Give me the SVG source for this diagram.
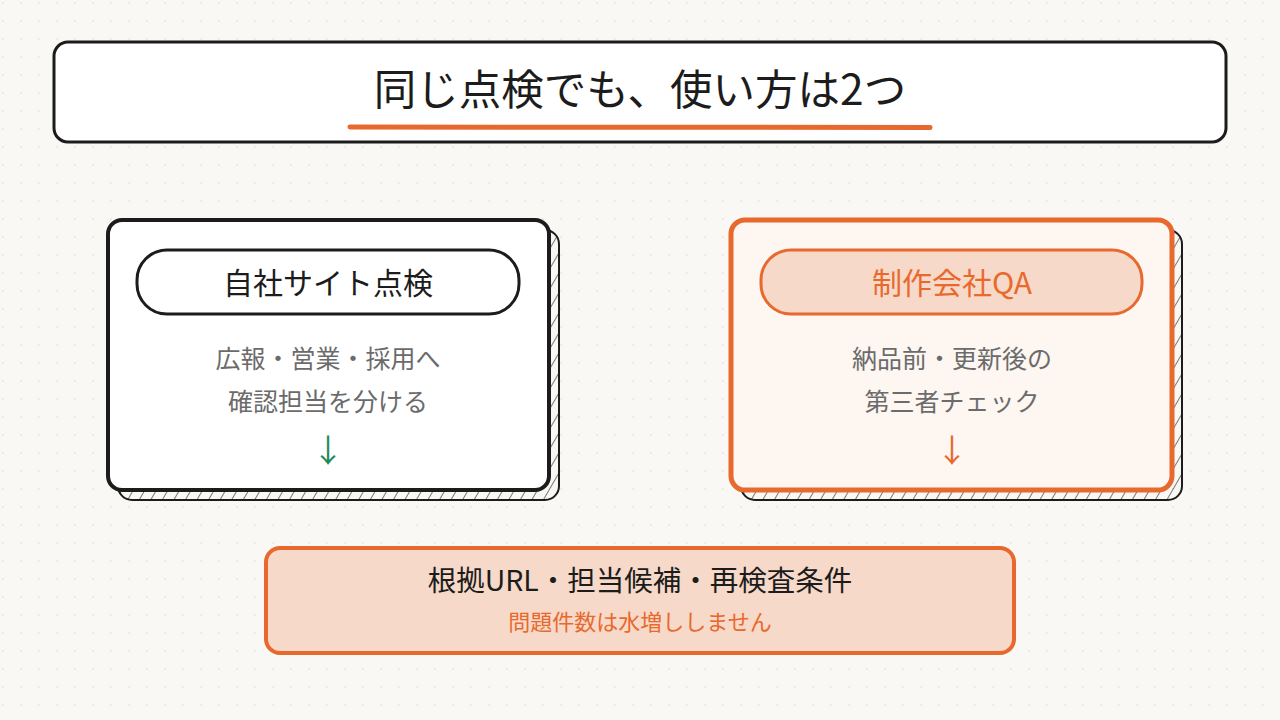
<svg xmlns="http://www.w3.org/2000/svg" width="1280" height="720" viewBox="0 0 1280 720">
  <defs>
    <pattern id="dots" x="0" y="0" width="18" height="18" patternUnits="userSpaceOnUse">
      <circle cx="3" cy="3" r="1" fill="#f2e6e0"/>
    </pattern>
    <pattern id="hatch" x="0" y="0" width="10" height="10" patternUnits="userSpaceOnUse" patternTransform="rotate(30)">
      <line x1="0" y1="0" x2="0" y2="10" stroke="#333" stroke-width="1.3"/>
    </pattern>
    <style>
      .t { font-family: "Noto Sans CJK JP", "Noto Sans", sans-serif; text-anchor: middle; }
      .ink { stroke: #1c1c1c; stroke-linejoin: round; stroke-linecap: round; }
      .org { stroke: #e8692e; stroke-linejoin: round; stroke-linecap: round; }
      .shadow { fill: url(#hatch); stroke: #1c1c1c; stroke-width: 2; }
      .body { font-size: 25px; fill: #6b6b6b; }
    </style>
  </defs>
  <rect width="1280" height="720" fill="#faf8f4"/>
  <rect width="1280" height="720" fill="url(#dots)"/>

  <g id="title">
    <rect x="54" y="42" width="1172" height="100" rx="14" fill="#ffffff" class="ink" stroke-width="3"/>
    <text class="t" x="640" y="105" font-size="42.5" fill="#1c1c1c">同じ点検でも、使い方は2つ</text>
    <line x1="350" y1="127" x2="930" y2="127.5" class="org" stroke-width="5" fill="none"/>
  </g>

  <g id="card-left">
    <rect x="118" y="230" width="441" height="270" rx="14" class="shadow"/>
    <rect x="108" y="220" width="441" height="270" rx="14" fill="#ffffff" class="ink" stroke-width="4"/>
    <rect x="137" y="250" width="382" height="64" rx="30" fill="#ffffff" class="ink" stroke-width="3"/>
    <text class="t" x="328" y="294" font-size="30" fill="#1c1c1c">自社サイト点検</text>
    <text class="t body" x="328" y="368">広報・営業・採用へ</text>
    <text class="t body" x="328" y="411">確認担当を分ける</text>
    <text class="t" x="328" y="462" font-size="32" fill="#1f8a5a">↓</text>
  </g>

  <g id="card-right">
    <rect x="741" y="230" width="441" height="270" rx="14" class="shadow"/>
    <rect x="731" y="220" width="441" height="270" rx="14" fill="#fdf6f1" class="org" stroke-width="5"/>
    <rect x="761" y="250" width="381" height="64" rx="30" fill="#f6d9c8" class="org" stroke-width="3"/>
    <text class="t" x="952" y="294" font-size="30" fill="#e8692e">制作会社QA</text>
    <text class="t body" x="952" y="368">納品前・更新後の</text>
    <text class="t body" x="952" y="411">第三者チェック</text>
    <text class="t" x="952" y="462" font-size="32" fill="#e8692e">↓</text>
  </g>

  <g id="result">
    <rect x="266" y="548" width="748" height="105" rx="14" fill="#f6d9c8" class="org" stroke-width="4"/>
    <text class="t" x="640" y="591" font-size="28.5" fill="#1c1c1c">根拠URL・担当候補・再検査条件</text>
    <text class="t" x="640" y="630" font-size="22" fill="#e8692e">問題件数は水増ししません</text>
  </g>

  <g id="connectors"></g>
</svg>
